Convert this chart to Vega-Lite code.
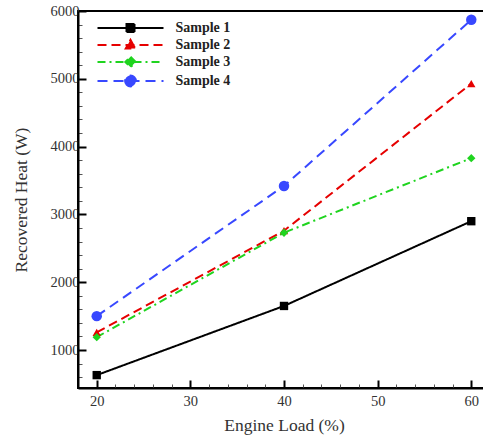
{
  "$schema": "https://vega.github.io/schema/vega-lite/v6.json",
  "width": 412,
  "height": 377,
  "autosize": {"type": "none"},
  "padding": {"left": 78, "top": 11, "right": 0, "bottom": 50},
  "config": {
    "view": {"stroke": "black", "strokeWidth": 2},
    "font": "Liberation Serif",
    "legend": {
      "orient": "none",
      "legendX": 16.5,
      "legendY": 10,
      "padding": 0,
      "rowPadding": -1,
      "symbolSize": 64,
      "symbolOffset": 29,
      "labelOffset": 38,
      "symbolStrokeWidth": 2,
      "labelFont": "Liberation Serif",
      "labelFontWeight": "bold",
      "labelFontSize": 14,
      "labelColor": "#222"
    }
  },
  "data": {
    "values": [
      {"load": 20, "heat": 630, "sample": "Sample 1"},
      {"load": 40, "heat": 1650, "sample": "Sample 1"},
      {"load": 60, "heat": 2900, "sample": "Sample 1"},
      {"load": 20, "heat": 1260, "sample": "Sample 2"},
      {"load": 40, "heat": 2760, "sample": "Sample 2"},
      {"load": 60, "heat": 4930, "sample": "Sample 2"},
      {"load": 20, "heat": 1190, "sample": "Sample 3"},
      {"load": 40, "heat": 2730, "sample": "Sample 3"},
      {"load": 60, "heat": 3830, "sample": "Sample 3"},
      {"load": 20, "heat": 1500, "sample": "Sample 4"},
      {"load": 40, "heat": 3420, "sample": "Sample 4"},
      {"load": 60, "heat": 5870, "sample": "Sample 4"}
    ]
  },
  "encoding": {
    "x": {
      "field": "load",
      "type": "quantitative",
      "scale": {"domain": [18, 62], "nice": false, "zero": false},
      "axis": {
        "title": "Engine Load (%)",
        "values": [20, 22, 24, 26, 28, 30, 32, 34, 36, 38, 40, 42, 44, 46, 48, 50, 52, 54, 56, 58, 60],
        "labelExpr": "datum.value % 10 === 0 ? datum.label : ''",
        "grid": false,
        "domainColor": "black",
        "domainWidth": 2,
        "tickColor": {"condition": {"test": "datum.value % 10 === 0", "value": "black"}, "value": "#555"},
        "tickWidth": {"condition": {"test": "datum.value % 10 === 0", "value": 2}, "value": 1},
        "tickSize": {"condition": {"test": "datum.value % 10 === 0", "value": -8}, "value": -4},
        "labelPadding": 14,
        "labelFont": "Liberation Serif",
        "labelFontSize": 14.5,
        "labelColor": "#333",
        "labelFlush": false,
        "titleFont": "Liberation Serif",
        "titleFontSize": 17.5,
        "titleFontWeight": "normal",
        "titleColor": "#333",
        "titlePadding": 9
      }
    },
    "y": {
      "field": "heat",
      "type": "quantitative",
      "scale": {"domain": [440, 6000], "nice": false, "zero": false},
      "axis": {
        "title": "Recovered Heat (W)",
        "values": [600, 800, 1000, 1200, 1400, 1600, 1800, 2000, 2200, 2400, 2600, 2800, 3000, 3200, 3400, 3600, 3800, 4000, 4200, 4400, 4600, 4800, 5000, 5200, 5400, 5600, 5800, 6000],
        "labelExpr": "datum.value % 1000 === 0 ? datum.label : ''",
        "format": "d",
        "grid": false,
        "domainColor": "black",
        "domainWidth": 2,
        "tickColor": {"condition": {"test": "datum.value % 1000 === 0", "value": "black"}, "value": "#555"},
        "tickWidth": {"condition": {"test": "datum.value % 1000 === 0", "value": 2}, "value": 1},
        "tickSize": {"condition": {"test": "datum.value % 1000 === 0", "value": -8}, "value": -4},
        "labelPadding": 7,
        "labelFont": "Liberation Serif",
        "labelFontSize": 14.5,
        "labelColor": "#333",
        "labelFlush": false,
        "titleFont": "Liberation Serif",
        "titleFontSize": 17.5,
        "titleFontWeight": "normal",
        "titleColor": "#333",
        "titlePadding": 20
      }
    },
    "color": {
      "field": "sample",
      "type": "nominal",
      "scale": {"domain": ["Sample 1", "Sample 2", "Sample 3", "Sample 4"], "range": ["#000000", "#e60000", "#1fd41f", "#3848ff"]},
      "legend": {
        "title": null,
        "encode": {
          "symbols": {
            "update": {
              "shape": {"signal": "datum.value === 'Sample 1' ? 'M-8.25,0H8.25M-1,-1H1V1H-1Z' : datum.value === 'Sample 2' ? 'M-8.25,0H8.25M0,-1.3L1.2,0.9H-1.2Z' : datum.value === 'Sample 3' ? 'M-8.25,0H8.25M0,-1.3L1.3,0L0,1.3L-1.3,0Z' : 'M-8.25,0H8.25M-1.35,0A1.35,1.35,0,1,0,1.35,0A1.35,1.35,0,1,0,-1.35,0Z'"},
              "stroke": {"scale": "color", "field": "value"},
              "fill": {"scale": "color", "field": "value"},
              "strokeDash": {"signal": "datum.value === 'Sample 1' ? [1, 0] : datum.value === 'Sample 2' ? [9, 5] : datum.value === 'Sample 3' ? [8, 4, 2, 4] : [10, 6]"},
              "strokeWidth": {"value": 2},
              "opacity": {"value": 1}
            }
          }
        }
      }
    }
  },
  "layer": [
    {
      "mark": {"type": "line", "strokeWidth": 2},
      "encoding": {
        "strokeDash": {
          "condition": [
            {"test": "datum.sample === 'Sample 2'", "value": [9, 5]},
            {"test": "datum.sample === 'Sample 3'", "value": [8, 4, 2, 4]},
            {"test": "datum.sample === 'Sample 4'", "value": [10, 6]}
          ],
          "value": [1, 0]
        }
      }
    },
    {
      "mark": {"type": "point", "filled": true, "opacity": 1},
      "encoding": {
        "shape": {
          "condition": [
            {"test": "datum.sample === 'Sample 2'", "value": "triangle-up"},
            {"test": "datum.sample === 'Sample 3'", "value": "diamond"},
            {"test": "datum.sample === 'Sample 4'", "value": "circle"}
          ],
          "value": "square"
        },
        "size": {"condition": {"test": "datum.sample === 'Sample 4'", "value": 110}, "value": 70}
      }
    }
  ]
}
